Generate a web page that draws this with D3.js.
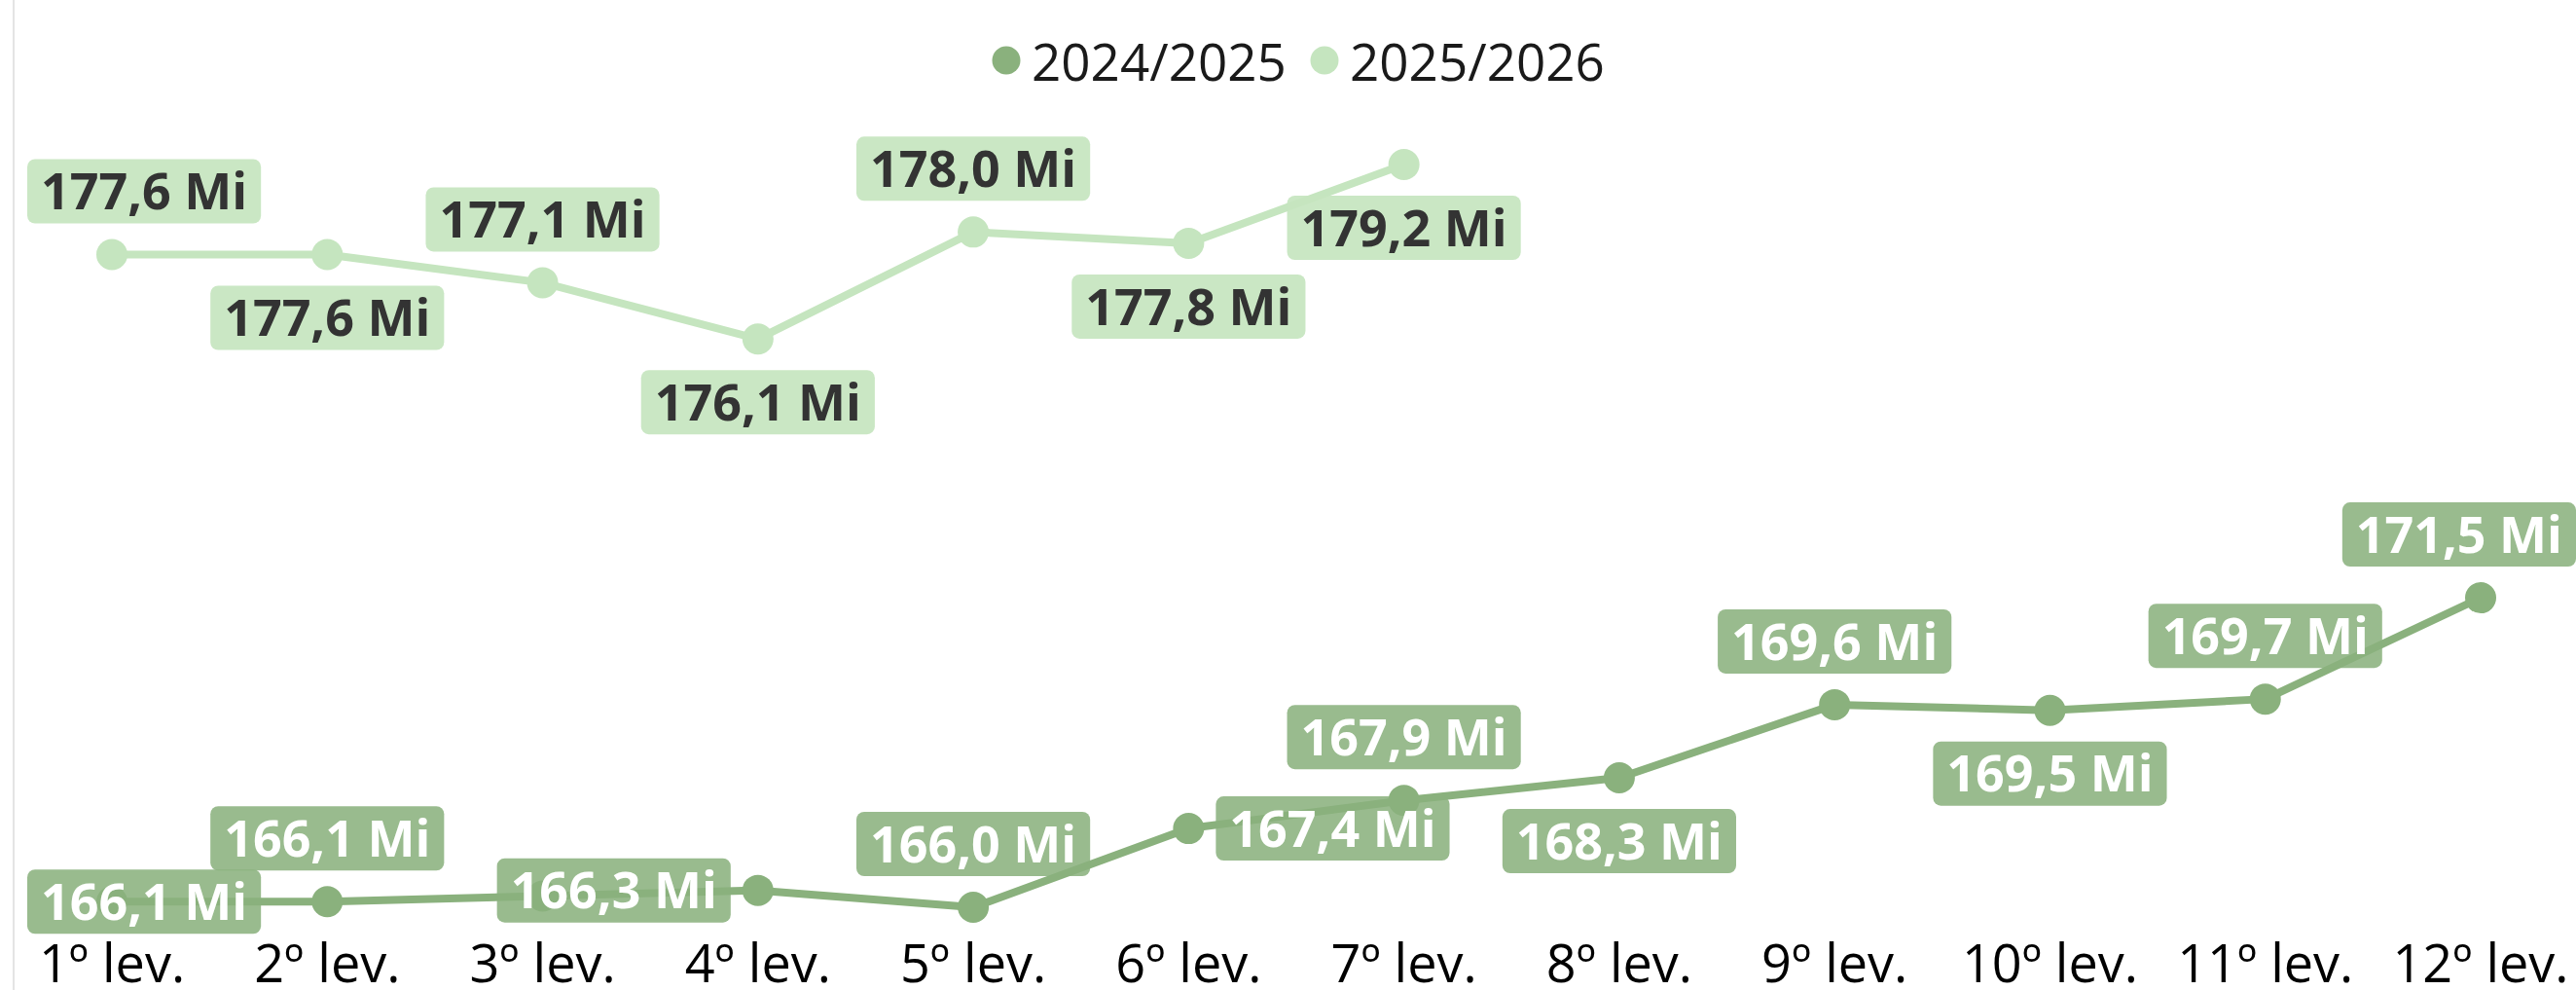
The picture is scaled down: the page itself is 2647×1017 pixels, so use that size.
<!DOCTYPE html>
<html lang="pt">
<head>
  <meta charset="UTF-8">
  <title>2024/2025 x 2025/2026 por levantamento</title>
  <script src="https://d3js.org/d3.v7.min.js"></script>
  <style>
    body {
      margin: 0;
      background-color: white;
      overflow: hidden;
      font-family: "Open Sans", "Noto Sans", sans-serif;
    }
  </style>
</head>
<body>
  <div id="chart"></div>

<script>
  // values (Mi)
  const categories = ['1º lev.', '2º lev.', '3º lev.', '4º lev.', '5º lev.', '6º lev.',
    '7º lev.', '8º lev.', '9º lev.', '10º lev.', '11º lev.', '12º lev.'];
  const seriesNames = ['2024/2025', '2025/2026'];
  const values2425 = [166.1, 166.1, 166.2, 166.3, 166.0, 167.4, 167.9, 168.3, 169.6, 169.5, 169.7, 171.5];
  const values2526 = [177.6, 177.6, 177.1, 176.1, 178.0, 177.8, 179.2];

  // where each data label sits (null = hidden, like the original)
  const labelPos2425 = ['center', 'above', null, 'left', 'above', 'right', 'above', 'below', 'above', 'below', 'above', 'above'];
  const labelPos2526 = ['above', 'below', 'above', 'below', 'above', 'below', 'below'];

  const width = 2647, height = 1017;

  const svg = d3.select('#chart')
    .append('svg')
    .attr('width', width)
    .attr('height', height);

  // thin frame line on the left
  svg.append('line')
    .attr('x1', 14).attr('x2', 14)
    .attr('y1', 0).attr('y2', height)
    .attr('stroke', '#e4e4e4')
    .attr('stroke-width', 2);

  let x = d3.scalePoint()
    .domain(categories)
    .range([115, 2549]);

  let y = d3.scaleLinear()
    .domain(d3.extent(values2425.concat(values2526)))
    .range([932, 169]);

  const locale = d3.formatLocale({ decimal: ',', thousands: '.', grouping: [3], currency: ['R$', ''] });
  const fmt = v => locale.format('.1f')(v) + ' Mi';

  const series = [
    { name: seriesNames[0], values: values2425, pos: labelPos2425, color: '#8ab17d', textColor: '#ffffff', boxOpacity: 0.87 },
    { name: seriesNames[1], values: values2526, pos: labelPos2526, color: '#c5e5bf', textColor: '#333333', boxOpacity: 0.92 }
  ];

  // X axis labels
  svg.append('g')
    .selectAll('text')
    .data(categories)
    .enter()
    .append('text')
    .attr('x', d => x(d))
    .attr('y', 1009)
    .attr('text-anchor', 'middle')
    .attr('font-size', 54)
    .attr('font-weight', 500)
    .attr('fill', '#000')
    .text(d => d);

  // legend
  const legendX = [1034, 1361];
  const legend = svg.append('g');
  series.forEach((s, i) => {
    legend.append('circle')
      .attr('cx', legendX[i])
      .attr('cy', 62)
      .attr('r', 14.5)
      .attr('fill', s.color);
    legend.append('text')
      .attr('x', legendX[i] + 26)
      .attr('y', 83)
      .attr('font-size', 53)
      .attr('fill', '#1a1a1a')
      .text(s.name);
  });

  const line = d3.line()
    .x((d, i) => x(categories[i]))
    .y(d => y(d));

  // lines + points
  series.forEach(s => {
    svg.append('path')
      .datum(s.values)
      .attr('d', line)
      .attr('fill', 'none')
      .attr('stroke', s.color)
      .attr('stroke-width', 8)
      .attr('stroke-linejoin', 'round');

    svg.append('g')
      .selectAll('circle')
      .data(s.values)
      .enter()
      .append('circle')
      .attr('cx', (d, i) => x(categories[i]))
      .attr('cy', d => y(d))
      .attr('r', 16)
      .attr('fill', s.color);
  });

  // data labels
  const boxH = 66, pad = 14, gapV = 32, gapH = 28;
  series.forEach(s => {
    const g = svg.append('g');
    s.values.forEach((v, i) => {
      const pos = s.pos[i];
      if (!pos) return;
      const cx = x(categories[i]), cy = y(v);

      const lbl = g.append('g');
      const box = lbl.append('rect');
      const txt = lbl.append('text')
        .attr('font-size', 52)
        .attr('font-weight', 'bold')
        .attr('fill', s.textColor)
        .attr('text-anchor', 'middle')
        .text(fmt(v));
      const w = txt.node().getComputedTextLength() + pad * 2;

      let bx = cx - w / 2, by = cy - boxH / 2;
      if (pos === 'above') by = cy - gapV - boxH;
      if (pos === 'below') by = cy + gapV;
      if (pos === 'left') bx = cx - gapH - w;
      if (pos === 'right') bx = cx + gapH;
      bx = Math.max(28, Math.min(width - w, bx));

      box.attr('x', bx).attr('y', by)
        .attr('width', w).attr('height', boxH)
        .attr('rx', 8)
        .attr('fill', s.color)
        .attr('fill-opacity', s.boxOpacity);
      txt.attr('x', bx + w / 2)
        .attr('y', by + boxH / 2)
        .attr('dy', '0.36em');
    });
  });
</script>
</body>
</html>
